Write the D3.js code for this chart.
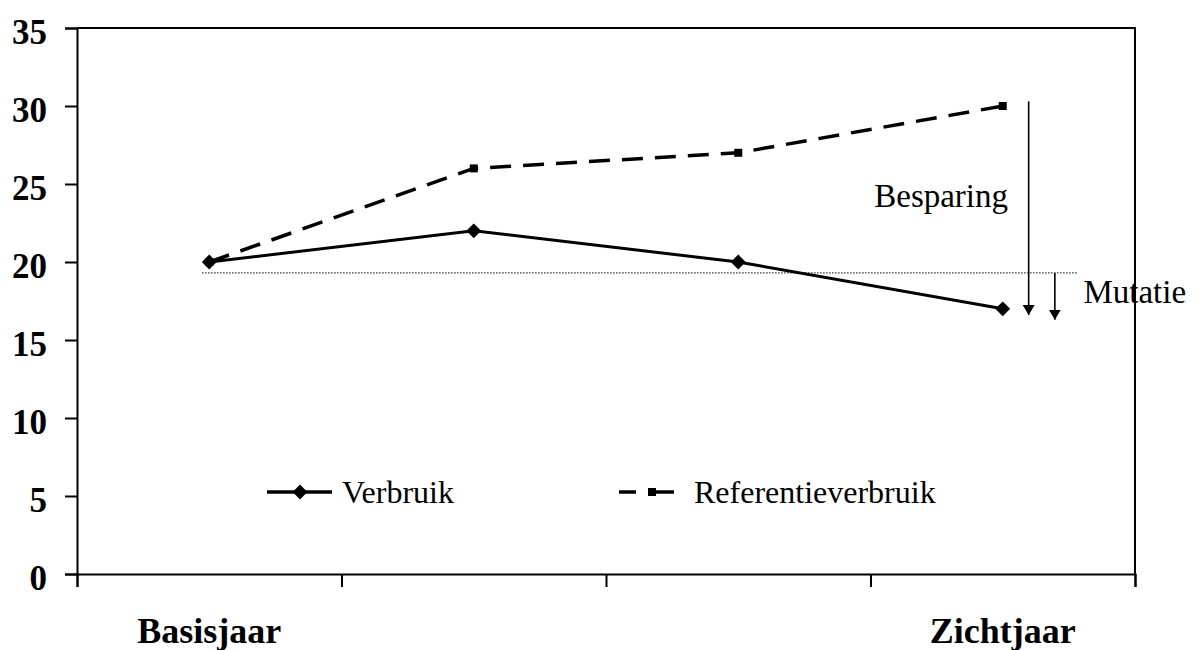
<!DOCTYPE html>
<html>
<head>
<meta charset="utf-8">
<script src="https://cdn.jsdelivr.net/npm/d3@7"></script>
<style>
  body { margin: 0; background: #fff; }
  svg { display: block; font-family: "Liberation Serif", "Times New Roman", serif; }
</style>
</head>
<body>
<div class="chart"></div>
<script>
// data
const categories = ["Basisjaar", "Jaar 2", "Jaar 3", "Zichtjaar"];
const categoryLabels = ["Basisjaar", "", "", "Zichtjaar"];
const verbruik = [20, 22, 20, 17];
const referentie = [20, 26, 27, 30];
const yTicks = [0, 5, 10, 15, 20, 25, 30, 35];
const mutatieLevel = 19.3;

const width = 1195, height = 650;
const margin = { top: 28, right: 60, bottom: 76, left: 77 };
const innerW = width - margin.left - margin.right;
const innerH = height - margin.top - margin.bottom;

const svg = d3.select(".chart").append("svg")
  .attr("width", width)
  .attr("height", height);

const g = svg.append("g")
  .attr("transform", `translate(${margin.left},${margin.top})`);

const xBand = d3.scaleBand().domain(categories).range([0, innerW]);
const xLin = d3.scaleLinear().domain([0, categories.length]).range([0, innerW]);
const y = d3.scaleLinear().domain([0, 35]).range([innerH, 0]);
const cx = (d, i) => xBand(categories[i]) + xBand.bandwidth() / 2;

// frame (top + right)
g.append("path")
  .attr("d", `M0,${y(35)}H${innerW}V${innerH}`)
  .attr("fill", "none").attr("stroke", "#000").attr("stroke-width", 2);

// y axis
const yAxis = d3.axisLeft(y).tickValues(yTicks).tickSize(12).tickPadding(18);
g.append("g").attr("class", "y-axis").call(yAxis)
  .call(a => a.select(".domain").attr("stroke-width", 2))
  .call(a => a.selectAll(".tick line").attr("stroke-width", 2))
  .call(a => a.selectAll("text")
    .attr("font-family", "Liberation Serif").attr("font-weight", "bold")
    .attr("font-size", 35).attr("dy", "0.45em").attr("fill", "#000"));

// x axis (ticks at band edges)
const xAxis = d3.axisBottom(xLin).tickValues(d3.range(categories.length + 1))
  .tickSize(13).tickFormat("");
g.append("g").attr("class", "x-axis")
  .attr("transform", `translate(0,${innerH})`)
  .call(xAxis)
  .call(a => a.select(".domain").attr("stroke-width", 2))
  .call(a => a.selectAll(".tick line").attr("stroke-width", 2));

g.selectAll(".cat-label").data(categoryLabels).enter()
  .append("text").attr("class", "cat-label")
  .attr("x", (d, i) => cx(d, i))
  .attr("y", innerH + 69)
  .attr("text-anchor", "middle")
  .attr("font-weight", "bold").attr("font-size", 36)
  .text(d => d);

// dotted reference line
g.append("line")
  .attr("x1", xLin(0.473)).attr("x2", xLin(3.78))
  .attr("y1", y(mutatieLevel)).attr("y2", y(mutatieLevel))
  .attr("stroke", "#333").attr("stroke-width", 1.2).attr("stroke-dasharray", "1.5,1.5");

// lines
const line = d3.line().x((d, i) => cx(d, i)).y(d => y(d));

g.append("path").datum(referentie)
  .attr("d", line).attr("fill", "none").attr("stroke", "#000")
  .attr("stroke-width", 3.5).attr("stroke-dasharray", "21,12");

g.append("path").datum(verbruik)
  .attr("d", line).attr("fill", "none").attr("stroke", "#000")
  .attr("stroke-width", 3);

const diamond = d3.symbol().type(d3.symbolSquare).size(110);
g.selectAll(".v-pt").data(verbruik).enter().append("path")
  .attr("class", "v-pt")
  .attr("d", diamond)
  .attr("transform", (d, i) => `translate(${cx(d, i)},${y(d)}) rotate(45)`)
  .attr("fill", "#000");

g.selectAll(".r-pt").data(referentie).enter().append("rect")
  .attr("class", "r-pt")
  .attr("x", (d, i) => cx(d, i) - 4).attr("y", d => y(d) - 4)
  .attr("width", 8).attr("height", 8)
  .attr("fill", "#000");

// arrows
svg.append("defs").append("marker")
  .attr("id", "arrow").attr("viewBox", "0 0 10 12")
  .attr("refX", 10).attr("refY", 6)
  .attr("markerWidth", 10).attr("markerHeight", 12)
  .attr("markerUnits", "userSpaceOnUse")
  .attr("orient", "auto")
  .append("path").attr("d", "M0,0L10,6L0,12Z").attr("fill", "#000");

const arrows = [
  { x: 3.598, from: 30.3, to: 16.6 },
  { x: 3.697, from: mutatieLevel, to: 16.3 }
];
g.selectAll(".arrow").data(arrows).enter().append("line")
  .attr("x1", d => xLin(d.x)).attr("x2", d => xLin(d.x))
  .attr("y1", d => y(d.from)).attr("y2", d => y(d.to))
  .attr("stroke", "#000").attr("stroke-width", 1.6)
  .attr("marker-end", "url(#arrow)");

g.append("text")
  .attr("x", xLin(3.52)).attr("y", y(23.5))
  .attr("text-anchor", "end").attr("font-size", 33)
  .text("Besparing");

g.append("text")
  .attr("x", xLin(3.805)).attr("y", y(17.4))
  .attr("font-size", 33)
  .text("Mutatie");

// legend
const legend = g.append("g").attr("transform", `translate(0,${y(5) - 4})`);
const items = [
  { label: "Verbruik", x: 190, dash: null },
  { label: "Referentieverbruik", x: 542, dash: "17,12,26" }
];
items.forEach(it => {
  const li = legend.append("g").attr("transform", `translate(${it.x},0)`);
  li.append("line").attr("x1", 0).attr("x2", it.dash ? 55 : 65)
    .attr("stroke", "#000").attr("stroke-width", 3.5)
    .attr("stroke-dasharray", it.dash);
  if (it.dash) {
    li.append("rect").attr("x", 29).attr("y", -4).attr("width", 8).attr("height", 8).attr("fill", "#000");
  } else {
    li.append("path").attr("d", diamond).attr("transform", "translate(33,0) rotate(45)").attr("fill", "#000");
  }
  li.append("text").attr("x", it.dash ? 75 : 75).attr("y", 11).attr("font-size", 32).text(it.label);
});
</script>
</body>
</html>
